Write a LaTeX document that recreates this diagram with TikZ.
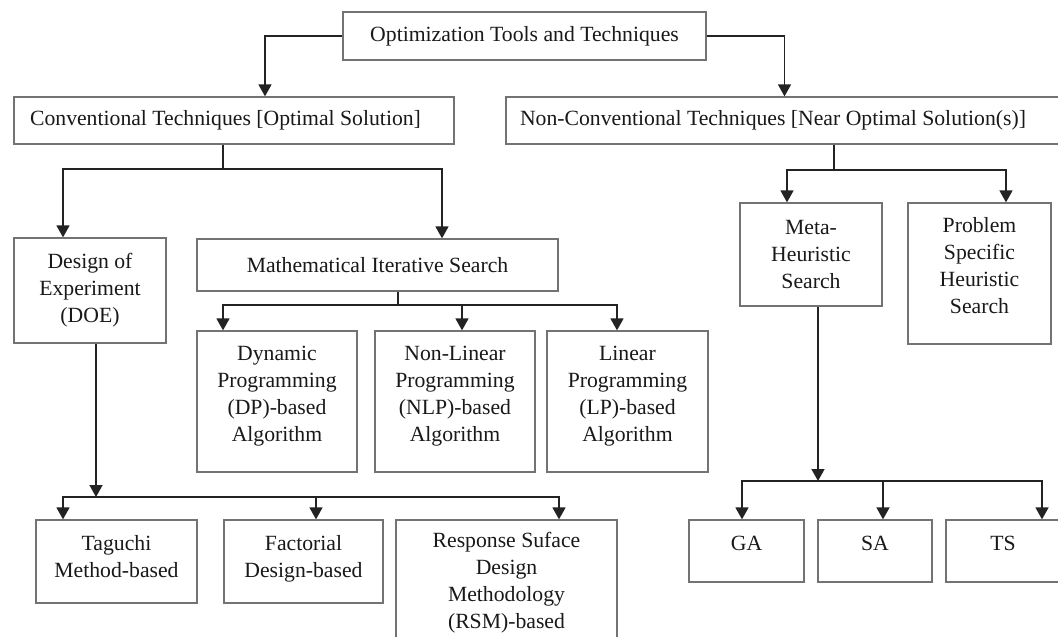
\documentclass[tikz,border=0pt]{standalone}
\usepackage{fontspec}
\setmainfont{Liberation Serif}
\usetikzlibrary{arrows.meta}
\definecolor{boxgray}{RGB}{115,115,115}
\definecolor{linec}{RGB}{35,35,35}
\definecolor{txt}{RGB}{25,25,25}
\newcommand\xdp[1]{\rule[-#1]{0pt}{#1}}
\begin{document}
\begin{tikzpicture}[x=1pt,y=-1pt,
  box/.style={draw=boxgray, line width=1.3pt, rectangle, inner sep=0pt, align=center,
    text=txt, font=\fontsize{21.7}{27}\selectfont},
  conn/.style={draw=linec, line width=1.6pt},
  arr/.style={conn, -{Triangle[width=13pt,length=12pt]}},
]
\useasboundingbox (0,0) rectangle (1058,637);
\clip (0,0) rectangle (1058,637);
\fill[white] (0,0) rectangle (1058,637);

% nodes
\node[box, minimum width=363pt, minimum height=48pt] (top) at (524.5,36) {Optimization Tools and Techniques};
\node[box, minimum width=440pt, minimum height=47pt] (conv) at (234,120.5) {Conventional Techniques [Optimal Solution]\rule{17pt}{0pt}};
\node[box, minimum width=557pt, minimum height=47pt] (ncon) at (784.5,120.5) {Non-Conventional Techniques [Near Optimal Solution(s)]\rule{23pt}{0pt}};

\node[box, minimum width=152pt, minimum height=105pt] (doe) at (90,290.5) {Design of\\Experiment\\(DOE)};
\node[box, minimum width=361pt, minimum height=52pt] (math) at (377.5,265) {Mathematical Iterative Search};
\node[box, minimum width=160pt, minimum height=141pt] (dp) at (277,401.5) {Dynamic\\Programming\\(DP)-based\\Algorithm\xdp{15pt}};
\node[box, minimum width=160pt, minimum height=141pt] (nlp) at (455,401.5) {Non-Linear\\Programming\\(NLP)-based\\Algorithm\xdp{15pt}};
\node[box, minimum width=161pt, minimum height=141pt] (lp) at (627.5,401.5) {Linear\\Programming\\(LP)-based\\Algorithm\xdp{15pt}};

\node[box, minimum width=142pt, minimum height=103pt] (meta) at (811,254.5) {Meta-\\Heuristic\\Search};
\node[box, minimum width=143pt, minimum height=141pt] (prob) at (979.5,273.5) {Problem\\Specific\\Heuristic\\Search\xdp{17pt}};

\node[box, minimum width=161pt, minimum height=83pt] (tag) at (116.5,561.5) {Taguchi\\Method-based\xdp{11pt}};
\node[box, minimum width=159pt, minimum height=83pt] (fac) at (303.5,561.5) {Factorial\\Design-based\xdp{11pt}};
\node[box, minimum width=221pt, minimum height=126pt] (rsm) at (506.5,583) {Response Suface\\Design\\Methodology\\(RSM)-based};

\node[box, minimum width=115pt, minimum height=62pt] (ga) at (746.5,551) {GA\xdp{16pt}};
\node[box, minimum width=114pt, minimum height=62pt] (sa) at (875,551) {SA\xdp{16pt}};
\node[box, minimum width=114pt, minimum height=62pt] (ts) at (1003,551) {TS\xdp{16pt}};

% junctions
\coordinate (cj) at (223,169);
\coordinate (mj) at (398,305);
\coordinate (dj) at (96,497);
\coordinate (nj) at (834,170);
\coordinate (hj) at (818,481);

% connectors
\draw[arr] (top.west) -| ([xshift=31pt]conv.north);
\draw[arr] (top.east) -| (ncon.north);

\draw[conn] ([xshift=-11pt]conv.south) -- (cj);
\draw[arr] (cj) -| ([xshift=-27pt]doe.north);
\draw[arr] (cj) -| ([xshift=64.5pt]math.north);

\draw[conn] ([xshift=20.5pt]math.south) -- (mj);
\draw[arr] (mj) -| ([xshift=-54pt]dp.north);
\draw[arr] (mj) -| ([xshift=7pt]nlp.north);
\draw[arr] (mj) -| ([xshift=-10.5pt]lp.north);

\draw[arr] ([xshift=6pt]doe.south) -- (dj);
\draw[arr] (dj) -| ([xshift=-53.5pt]tag.north);
\draw[arr] (dj) -| ([xshift=12.5pt]fac.north);
\draw[arr] (dj) -| ([xshift=52.5pt]rsm.north);

\draw[conn] ([xshift=49.5pt]ncon.south) -- (nj);
\draw[arr] (nj) -| ([xshift=-24pt]meta.north);
\draw[arr] (nj) -| ([xshift=26.5pt]prob.north);

\draw[arr] ([xshift=7pt]meta.south) -- (hj);
\draw[arr] (hj) -| ([xshift=-4.5pt]ga.north);
\draw[arr] (hj) -| ([xshift=8pt]sa.north);
\draw[arr] (hj) -| ([xshift=39pt]ts.north);
\end{tikzpicture}
\end{document}
